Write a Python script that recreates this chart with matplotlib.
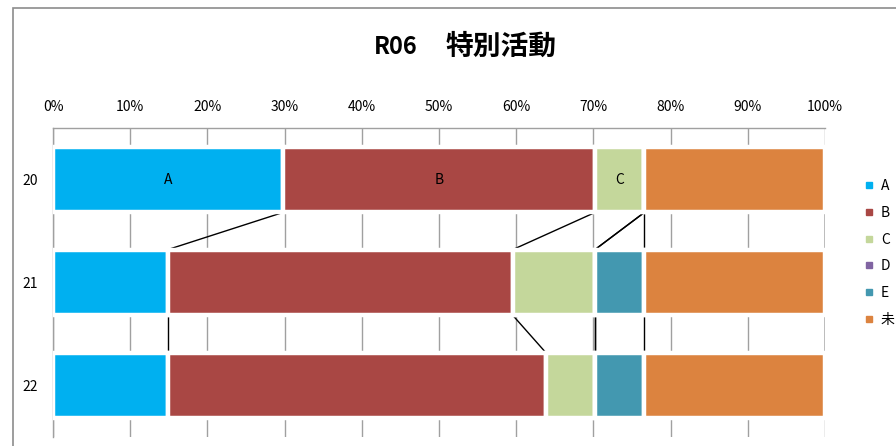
import matplotlib
matplotlib.use("Agg")
import matplotlib.pyplot as plt
from matplotlib.lines import Line2D
from matplotlib.patches import Rectangle
import numpy as np

plt.rcParams['font.family'] = ['Noto Sans CJK JP', 'DejaVu Sans']

# data (counts per year, total 47 each)
years = ['20', '21', '22']
series = ['A', 'B', 'C', 'D', 'E', '未']
A = [14, 7, 7]
B = [19, 21, 23]
C = [3, 5, 3]
D = [0, 0, 0]
E = [0, 3, 3]
U = [11, 11, 11]
colors = ['#00B0F0', '#A94744', '#C4D79B', '#8064A2', '#4398B0', '#DC833F']

values = np.array([A, B, C, D, E, U], dtype=float)
pct = values / values.sum(axis=0) * 100

fig = plt.figure(figsize=(8.96, 4.46), dpi=100)
ax = fig.add_axes([53/896, 1-437/446, 772/896, 309/446])

ypos = np.arange(len(years))
h = 0.64
left = np.zeros(len(years))
for i, name in enumerate(series):
    ax.barh(ypos, pct[i], left=left, height=h, color=colors[i],
            edgecolor='white', linewidth=3.2, zorder=3)
    left = left + pct[i]

# labels in the first bar
cum = np.cumsum(pct[:, 0]) - pct[:, 0]
for i, name in enumerate(series[:3]):
    ax.text(cum[i] + pct[i, 0] / 2, ypos[0], name, ha='center', va='center',
            fontsize=10, zorder=5)

# series lines between bars
ends = np.cumsum(pct, axis=0)
for j in range(len(years) - 1):
    for i in range(len(series)):
        ax.plot([ends[i, j], ends[i, j + 1]], [ypos[j] + h/2, ypos[j + 1] - h/2],
                color='black', lw=1, zorder=2, solid_capstyle='butt')

ax.set_xlim(0, 100)
ax.set_ylim(2.5, -0.5)
ax.set_xticks(np.arange(0, 101, 10))
ax.set_xticklabels([f'{v}%' for v in range(0, 101, 10)], fontsize=10)
ax.xaxis.tick_top()
ax.set_yticks(ypos)
ax.set_yticklabels(years, fontsize=10)
ax.tick_params(axis='x', length=0, pad=10)
ax.tick_params(axis='y', length=0, pad=11)
ax.grid(axis='x', color='#A0A0A0', lw=1, zorder=0)
ax.set_axisbelow(True)
for s in ['right', 'bottom']:
    ax.spines[s].set_visible(False)
for s in ['top', 'left']:
    ax.spines[s].set_color('#A0A0A0')
    ax.spines[s].set_linewidth(1)

# outer chart border
fig.patches.append(Rectangle((13/896, -0.1), 1.0, 1.1 - 8/446, transform=fig.transFigure,
                             fill=False, edgecolor='#8C8C8C', lw=1.2))

# title
fig.text(418/896, 1-47/446, 'R06', ha='right', va='center',
         fontsize=17, fontweight='bold')
fig.text(446/896, 1-47/446, '特別活動', ha='left', va='center',
         fontsize=20, fontweight='bold')

handles = [Line2D([], [], marker='s', ls='', color=c, markersize=4) for c in colors]
fig.legend(handles, series, loc='upper left', bbox_to_anchor=(865/896, 1-179/446),
           frameon=False, fontsize=10, handlelength=0.6, handletextpad=0.55,
           labelspacing=0.92, borderaxespad=0, borderpad=0)

fig.savefig('out.png', dpi=100)
